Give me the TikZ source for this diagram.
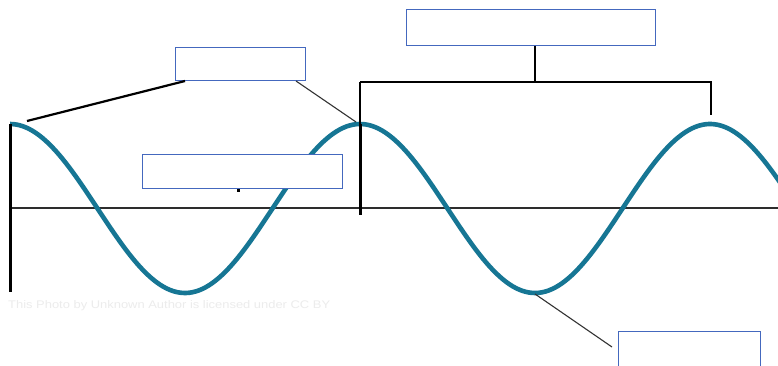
\documentclass[tikz,border=0pt]{standalone}
\usepackage{fontspec}
\setmainfont{Liberation Sans}
\usepackage{graphicx}
\definecolor{wavecol}{RGB}{22,118,148}
\definecolor{boxcol}{RGB}{68,104,190}
\definecolor{axiscol}{RGB}{45,45,45}
\definecolor{markcol}{RGB}{236,236,236}
\tikzset{
  lbox/.style={draw=boxcol, line width=1pt, fill=white, inner sep=0pt, anchor=north west},
  wave/.style={draw=wavecol, line width=4.6pt, line join=round},
  axisline/.style={draw=axiscol, line width=2.2pt},
  blackline/.style={draw=black, line width=2.2pt},
  thinline/.style={draw=black!80, line width=1.1pt},
}
\begin{document}
\begin{tikzpicture}[x=1pt, y=-1pt]
\useasboundingbox (0,0) rectangle (778,366);
\fill[white] (0,0) rectangle (778,366);
% points
\coordinate (p0) at (10,124);
\coordinate (p1) at (360,124);
\coordinate (p2) at (711,124);
\coordinate (t2) at (535,294);
\coordinate (leftbottom) at (10,292);
\coordinate (axisend) at (778,208);
\coordinate (axisstart) at (10,208);
\coordinate (v1top) at (360,82);
\coordinate (v1bot) at (360,215);
\coordinate (bl) at (535,82);
\coordinate (br) at (711,82);
\coordinate (br2) at (711,115);
% axis
\draw[axisline] (axisstart) -- (axisend);
% wave
\draw[wave] plot[domain=10:790, samples=240] (\x, {208.5-84.5*cos((\x-10)*1.0285714)});
% verticals
\draw[draw=black, line width=3pt] (p0) -- (leftbottom);
\draw[blackline] (v1top) -- (p1);
\draw[draw=black, line width=3pt] (p1) -- (v1bot);
% bracket
\draw[blackline] (v1top) -- (br) -- (br2);
% boxes
\node[lbox, minimum width=249pt, minimum height=36pt] (top) at (406,9) {};
\node[lbox, minimum width=130pt, minimum height=33pt] (wl) at (175,47) {};
\node[lbox, minimum width=200pt, minimum height=34pt] (mid) at (142,154) {};
\node[lbox, minimum width=142pt, minimum height=40pt] (br4) at (618,331) {};
% connectors
\draw[blackline] (top.south -| bl) -- (bl);
\draw[blackline] ([xshift=10pt]wl.south west) -- (27,121);
\draw[thinline] ([xshift=-10pt]wl.south east) -- (356,122);
\draw[thinline] (t2) -- (612,347);
\draw[draw=black, line width=2.5pt] ([xshift=-4pt]mid.south) -- ++(0,3);
% faint credit
\node[anchor=west, inner sep=0pt, text=markcol] (credit) at (8,306) {\resizebox{322pt}{8pt}{This Photo by Unknown Author is licensed under CC BY}};
\end{tikzpicture}
\end{document}
